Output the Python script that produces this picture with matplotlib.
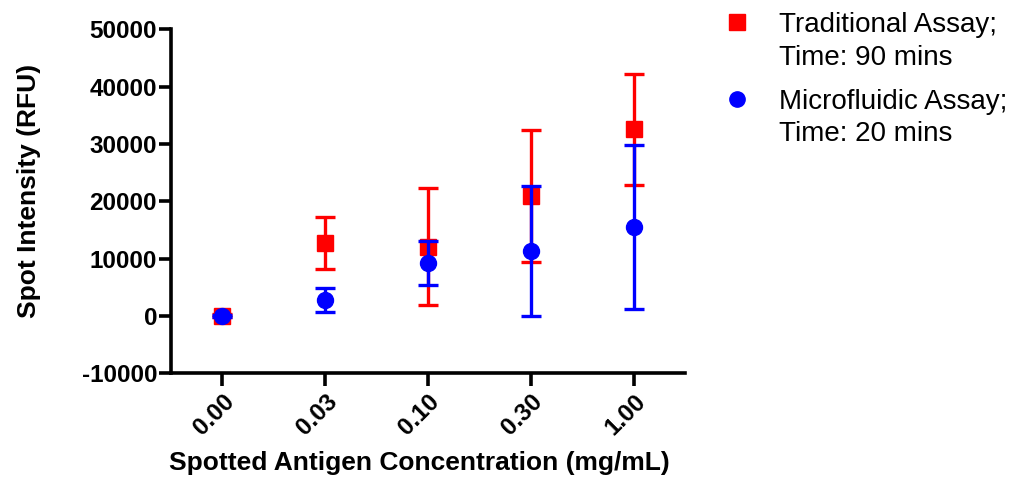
import matplotlib
matplotlib.use("Agg")
import matplotlib.pyplot as plt
from matplotlib.lines import Line2D
import numpy as np

categories = ["0.00", "0.03", "0.10", "0.30", "1.00"]

trad_mean = [0, 12700, 12000, 20900, 32600]
trad_low = [-300, 8200, 1800, 9400, 22900]
trad_high = [300, 17200, 22400, 32400, 42300]

micro_mean = [0, 2700, 9200, 11300, 15500]
micro_low = [-200, 600, 5300, 0, 1100]
micro_high = [200, 4800, 13100, 22600, 29800]

yticks = [-10000, 0, 10000, 20000, 30000, 40000, 50000]

legend_lines = [["Traditional Assay;", "Time: 90 mins"],
                ["Microfluidic Assay;", "Time: 20 mins"]]

plt.rcParams['font.family'] = ['Liberation Sans', 'DejaVu Sans']

W, H = 1011, 487
fig = plt.figure(figsize=(W / 100, H / 100), dpi=100)
ax = fig.add_axes([171 / W, 1 - 373 / H, 514 / W, 343.5 / H])

x = np.arange(len(categories))

def err(mean, low, high):
    mean = np.array(mean); low = np.array(low); high = np.array(high)
    return np.vstack([mean - low, high - mean])

red = '#ff0000'
blue = '#0000ff'

ax.errorbar(x, trad_mean, yerr=err(trad_mean, trad_low, trad_high), fmt='s',
            color=red, ms=11.5, elinewidth=2.4, capsize=7, capthick=2.4, zorder=3)
ax.errorbar(x, micro_mean, yerr=err(micro_mean, micro_low, micro_high), fmt='o',
            color=blue, ms=11.5, elinewidth=2.4, capsize=7, capthick=2.4, zorder=4)

ax.set_xlim(-0.5, 4.5)
ax.set_ylim(-10000, 50000)
ax.set_xticks(x)
ax.set_xticklabels(categories, rotation=45, ha='right', va='top',
                   rotation_mode='anchor', fontweight='bold', fontsize=17.5)
ax.set_yticks(yticks)
ax.set_yticklabels([str(v) for v in yticks], fontweight='bold', fontsize=17.5)

for s in ['top', 'right']:
    ax.spines[s].set_visible(False)
for s in ['left', 'bottom']:
    ax.spines[s].set_linewidth(2.6)
ax.tick_params(axis='both', direction='out', length=9, width=2.6, pad=1)
ax.tick_params(axis='x', pad=3)

ax.set_xlabel("Spotted Antigen Concentration (mg/mL)", fontweight='bold', fontsize=19)
ax.set_ylabel("Spot Intensity (RFU)", fontweight='bold', fontsize=19)
ax.xaxis.set_label_coords(0.4835, -0.228)
ax.yaxis.set_label_coords(-0.253, 0.53)

# legend (drawn manually so the marker aligns with the first text line)
leg_marker_x = 737 / W
leg_text_x = 779 / W
leg_rows = [(22, 55), (99, 131)]
for (mk, col), lines, (y1, y2) in zip([('s', red), ('o', blue)], legend_lines, leg_rows):
    fig.add_artist(Line2D([leg_marker_x], [1 - y1 / H], marker=mk, color=col,
                          ls='none', ms=11, transform=fig.transFigure))
    fig.text(leg_text_x, 1 - y1 / H, lines[0], fontsize=20, va='center_baseline', ha='left')
    fig.text(leg_text_x, 1 - y2 / H, lines[1], fontsize=20, va='center_baseline', ha='left')

fig.savefig("out.png", dpi=100)
